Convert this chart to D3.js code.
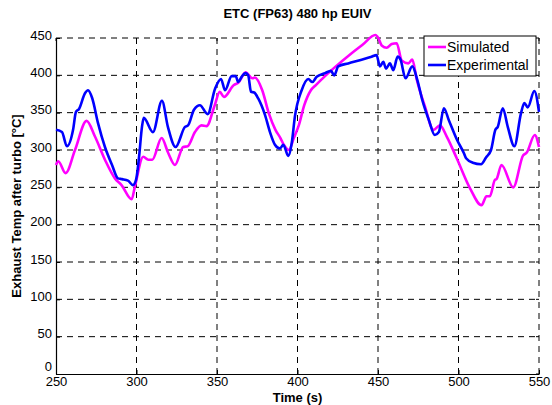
<!DOCTYPE html>
<html><head><meta charset="utf-8">
<script src="https://cdn.jsdelivr.net/npm/d3@7"></script>
<style>body{margin:0;background:#fff}svg{display:block}text{font-family:"Liberation Sans",Arial,sans-serif}</style>
</head><body><svg id="c" width="552" height="405"></svg>
<script>
const xTicks=[250,300,350,400,450,500,550];
const yTicks=[0,50,100,150,200,250,300,350,400,450];
const seriesNames=["Simulated","Experimental"];
const seriesColors=["#ff00ff","#0000ff"];
const simT=[250,251.4,256,261.8,269,274.2,280.4,286.6,290.7,297,299,304.2,307.3,309.8,315.6,319.7,323.9,329,331.8,336.3,340.4,343.5,348.6,351.7,354.3,360.5,363.2,367.8,371.9,373.5,378.1,382.2,386.3,389.4,391.5,394.6,397.7,400.8,404.2,408.3,411.4,417.6,423.8,432.1,440.4,448.4,450.2,452.3,455.4,458.5,461.6,464.7,468.8,471.3,474.1,479.2,484.4,488.5,492.7,498.9,507.1,514.3,517.4,519.5,522.6,523.6,526.7,534,540.2,542.2,547.4,550];
const simV=[280,285,269,300,339,318,287,262,253,234,251,291,287,287,316,296,280,304,305,324,333,332,360,378,371,387,390,404,396,397,380,349,327,316,307,300,316,333,360,380,387,400,412,427,441,454,450,440,437,442,443,420,416,421,394,358,327,333,318,289,249,226,238,238,260,261,280,250,293,296,320,304];
const expT=[250,253.7,256.8,260.6,262.4,264.3,268,269.9,272.4,276.1,280.4,284.8,288.5,291,294.7,297.8,299.7,301.6,303.4,304.5,310.2,315.8,319.5,324.3,330.1,332,335.7,339.4,344.2,348.8,352.5,355,359.1,361.6,363.2,365.3,367.8,369.4,371.1,373.1,375.6,379.8,382.9,386,389.1,391.2,394.3,396.4,398.4,402.6,406.7,409.2,411.9,417.1,420.8,422.8,425.3,431.5,439.8,446,449.1,451.2,453.3,455,457.4,459.5,462.2,464,467.1,471.3,474.4,477.5,481.6,485.3,487.8,490.9,494,499.2,503.3,504.7,508.9,514,517.1,520.2,522.9,524.4,527.5,530.6,534.7,538.8,540.9,543,547.1,550];
const expV=[327,324,305,327,351,355,376,380,370,336,304,280,262,261,259,253,260,291,331,343,324,366,331,304,331,333,354,360,348,382,395,380,399,399,391,398,403,400,378,377,369,347,324,307,302,307,292,309,345,380,395,391,398,403,406,400,412,416,421,425,427,412,418,409,416,407,425,421,396,412,394,367,340,320,324,356,340,313,296,289,283,281,290,300,327,331,356,331,305,349,363,357,379,351];

const svg=d3.select("#c");
const m={l:56,r:539,t:38,b:374};
const x=d3.scaleLinear().domain([250,550]).range([m.l,m.r]);
const y=d3.scaleLinear().domain([0,450]).range([m.b,m.t]);

// grid
const g=svg.append("g");
g.selectAll(".gx").data(xTicks.slice(1)).join("line")
 .attr("x1",d=>x(d)).attr("x2",d=>x(d)).attr("y1",m.b).attr("y2",m.t)
 .attr("stroke","#000").attr("stroke-width",1).attr("stroke-dasharray","6,5");
g.selectAll(".gy").data(yTicks.slice(1)).join("line")
 .attr("y1",d=>y(d)).attr("y2",d=>y(d)).attr("x1",m.l).attr("x2",m.r)
 .attr("stroke","#000").attr("stroke-width",1).attr("stroke-dasharray","6,5");
// small ticks at top/right
g.selectAll(".tt").data(xTicks).join("line").attr("x1",d=>x(d)).attr("x2",d=>x(d)).attr("y1",m.t).attr("y2",m.t+3).attr("stroke","#000");
g.selectAll(".tr").data(yTicks).join("line").attr("y1",d=>y(d)).attr("y2",d=>y(d)).attr("x1",m.r).attr("x2",m.r-3).attr("stroke","#000");

// axes
const xa=svg.append("g").attr("transform",`translate(0,${m.b})`).call(d3.axisBottom(x).tickValues(xTicks).tickSizeInner(-4).tickSizeOuter(0).tickPadding(3));
const ya=svg.append("g").attr("transform",`translate(${m.l},0)`).call(d3.axisLeft(y).tickValues(yTicks).tickSizeInner(-4).tickSizeOuter(0).tickPadding(4));
[xa,ya].forEach(a=>{a.selectAll("text").attr("font-size",13).attr("fill","#000").style("font-family","Liberation Sans, Arial, sans-serif");a.select(".domain").attr("stroke","#000").attr("stroke-width",1.2);});
ya.selectAll("text").attr("dy",d=>d===0?"-0.25em":"0.1em");

// lines
const line=d3.line().x(d=>x(d[0])).y(d=>y(d[1])).curve(d3.curveMonotoneX);
const sim=simT.map((t,i)=>[t,simV[i]]);
const exp=expT.map((t,i)=>[t,expV[i]]);
svg.append("path").datum(sim).attr("d",line).attr("fill","none").attr("stroke",seriesColors[0]).attr("stroke-width",2.6).attr("stroke-linejoin","round");
svg.append("path").datum(exp).attr("d",line).attr("fill","none").attr("stroke",seriesColors[1]).attr("stroke-width",2.6).attr("stroke-linejoin","round");

// title and labels
svg.append("text").attr("x",(m.l+m.r)/2).attr("y",18).attr("text-anchor","middle").attr("font-size",13).attr("font-weight","bold").text("ETC (FP63) 480 hp EUIV");
svg.append("text").attr("x",(m.l+m.r)/2).attr("y",401.5).attr("text-anchor","middle").attr("font-size",13).attr("font-weight","bold").text("Time (s)");
svg.append("text").attr("transform",`translate(21,${(m.t+m.b)/2}) rotate(-90)`).attr("text-anchor","middle").attr("font-size",13).attr("font-weight","bold").text("Exhaust Temp after turbo [°C]");

// legend
const lg=svg.append("g").attr("transform","translate(424,36)");
lg.append("rect").attr("width",112).attr("height",40).attr("fill","#fff").attr("stroke","#000").attr("stroke-width",1);
seriesNames.forEach((n,i)=>{
  lg.append("line").attr("x1",4).attr("x2",22).attr("y1",11+i*18).attr("y2",11+i*18).attr("stroke",seriesColors[i]).attr("stroke-width",2.6);
  lg.append("text").attr("x",23).attr("y",16+i*18).attr("font-size",14).text(n);
});
</script></body></html>
